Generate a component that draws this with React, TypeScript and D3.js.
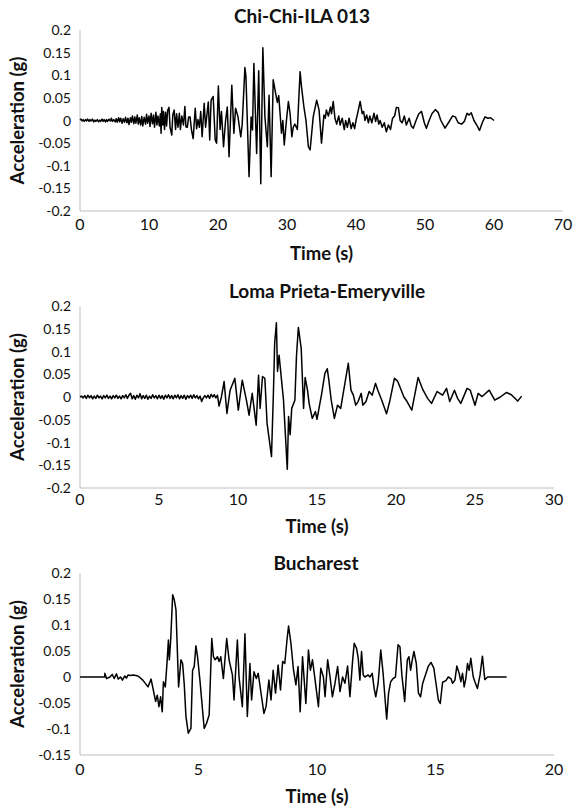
import React from "react";
import * as d3 from "d3";

// ---------- DATA ----------
const chiChiTitle = "Chi-Chi-ILA 013";
const lomaTitle = "Loma Prieta-Emeryville";
const buchTitle = "Bucharest";

const chiChiXTicks = [0, 10, 20, 30, 40, 50, 60, 70];
const lomaXTicks = [0, 5, 10, 15, 20, 25, 30];
const buchXTicks = [0, 5, 10, 15, 20];
const yTicksA = [-0.2, -0.15, -0.1, -0.05, 0, 0.05, 0.1, 0.15, 0.2];
const yTicksB = [-0.15, -0.1, -0.05, 0, 0.05, 0.1, 0.15, 0.2];

// [time (s), acceleration (g)]
const chiChi: [number, number][] = [
  [0,0.001],[0.15,0.003],[0.3,-0.001],[0.45,0.002],[0.6,-0.002],[0.8,0.002],[0.95,-0.001],[1.1,0.003],[1.3,-0.002],[1.45,0.002],[1.6,-0.001],[1.8,0.003],[2.0,-0.003],[2.15,0.001],[2.3,-0.002],[2.5,0.002],[2.7,-0.003],[2.85,0.001],[3.0,-0.002],[3.2,0.003],[3.35,-0.002],[3.5,0.002],[3.7,-0.003],[3.85,0.002],[4.0,-0.002],[4.2,0.003],[4.4,-0.001],[4.55,0.005],[4.7,-0.002],[4.9,0.002],[5.1,-0.003],
  [5.25,0.004],[5.4,-0.004],[5.6,0.006],[5.75,-0.003],[5.9,0.005],[6.1,-0.006],[6.25,0.004],[6.45,-0.004],[6.6,0.007],[6.8,-0.005],[6.95,0.005],[7.1,-0.009],[7.3,0.006],[7.45,-0.004],[7.6,0.01],[7.8,-0.007],[7.95,0.008],[8.1,-0.006],[8.3,0.012],[8.45,-0.008],[8.6,0.006],[8.8,-0.01],[8.95,0.009],[9.1,-0.012],[9.3,0.007],[9.5,-0.008],[9.65,0.014],[9.8,-0.006],[10.0,0.01],
  [10.15,-0.013],[10.3,0.016],[10.5,-0.007],[10.65,0.012],[10.8,-0.015],[11.0,0.018],[11.15,-0.01],[11.3,0.01],[11.5,-0.012],
  [11.65,0.015],[11.75,-0.028],[11.85,0.029],[12.0,-0.01],[12.1,0.02],[12.25,-0.02],[12.4,0.018],[12.55,-0.012],[12.7,0.022],[12.9,0.029],[13.05,-0.015],[13.3,-0.032],[13.45,0.012],[13.65,0.023],[13.85,-0.02],[14.0,0.015],[14.2,-0.015],[14.4,0.016],[14.55,-0.02],[14.75,0.01],[15.0,-0.01],[15.2,0.031],[15.35,-0.014],[15.55,-0.015],[15.75,0.008],[15.95,0.008],[16.15,-0.02],[16.4,-0.04],[16.7,0.027],[16.9,-0.018],[17.1,0.002],[17.3,-0.015],[17.5,0.02],[17.7,-0.036],[18.0,0.038],[18.2,-0.015],[18.6,0.041],[18.8,-0.043],[19.0,0.045],[19.3,0.053],[19.6,-0.043],[19.8,-0.05],
  [20.05,0.076],[20.3,-0.02],[20.5,0.02],[20.8,-0.058],[21.1,0.0],[21.35,0.03],[21.6,-0.08],[22.0,0.078],[22.3,-0.028],[22.55,0.027],[22.9,0.008],[23.3,-0.036],[23.5,-0.01],[23.9,0.117],[24.05,0.097],[24.5,-0.124],[24.8,0.008],[25.0,-0.021],[25.2,0.126],[25.6,-0.073],[25.9,0.11],[26.2,-0.14],[26.5,0.161],[26.8,0.008],[27.15,-0.058],[27.4,0.056],[27.7,-0.124],[28.0,0.09],[28.4,0.056],[28.6,0.04],[28.8,0.055],[29.0,0.015],[29.2,-0.028],[29.4,0.0],[29.6,-0.054],[29.9,-0.003],[30.2,0.042],[30.45,0.015],[30.7,-0.036],[30.9,-0.015],[31.15,-0.008],[31.5,-0.02],[31.9,0.108],[32.1,0.075],[32.45,0.03],[32.75,0.0],[33.1,-0.058],[33.35,-0.065],[33.8,0.008],[34.3,0.045],[34.65,0.023],[35.0,-0.05],[35.35,0.012],[35.55,0.005],
  [35.7,0.023],[36.0,0.01],[36.3,0.03],[36.45,0.015],[36.7,0.042],[36.95,0.005],[37.2,-0.008],[37.5,0.01],[37.7,-0.01],[38.0,0.005],[38.3,-0.02],[38.5,0.0],[38.75,-0.015],[39.0,0.005],[39.3,-0.018],[39.55,-0.005],[39.8,-0.018],[40.0,0.0],[40.3,0.02],[40.6,0.042],[40.9,0.015],[41.1,0.02],[41.3,0.0],[41.55,0.012],[41.8,-0.005],[42.0,0.01],[42.3,-0.005],[42.6,0.016],[42.85,-0.002],[43.05,0.012],[43.3,-0.008],[43.5,0.0],[43.8,-0.015],[44.1,-0.005],[44.4,-0.025],[44.7,-0.01],[45.0,-0.02],[45.3,0.005],[45.6,0.01],[45.85,0.029],[46.15,0.028],[46.4,0.0],[46.7,-0.005],[47.0,0.01],[47.3,-0.01],[47.7,0.005],[48.0,-0.012],[48.3,-0.017],[48.7,0.0],[49.1,0.015],[49.5,0.02],[49.9,-0.005],[50.2,-0.017],[50.6,0.0],[51.0,0.015],[51.5,0.024],[51.9,0.018],[52.3,0.0],[52.9,-0.017],[53.4,-0.005],[54.0,0.01],[54.4,0.008],[54.8,-0.005],[55.3,-0.008],[55.7,-0.002],[56.1,0.016],[56.4,0.012],[56.7,0.017],[57.1,0.0],[57.5,-0.01],[57.9,-0.022],[58.3,-0.005],[58.7,0.008],[59.1,0.005],[59.5,0.006],[60.0,0.0],
];

const loma: [number, number][] = [
  [0,0],[0.1,0.002],[0.2,-0.002],[0.3,0.003],[0.4,-0.003],[0.5,0.004],[0.6,-0.002],[0.7,0.003],[0.8,-0.004],[0.9,0.002],[1.0,-0.003],[1.1,0.004],[1.2,-0.002],[1.3,0.002],[1.4,-0.004],[1.5,0.003],[1.6,-0.002],[1.7,0.004],[1.8,-0.003],[1.9,0.002],[2.0,-0.004],[2.1,0.003],[2.2,-0.002],[2.3,0.004],[2.4,-0.003],[2.5,0.002],[2.6,-0.004],[2.7,0.003],[2.8,-0.002],[2.9,0.005],[3.0,-0.003],[3.1,0.004],[3.2,0.008],[3.3,-0.004],[3.4,0.003],[3.5,-0.005],[3.6,0.004],[3.7,-0.002],[3.8,0.007],[3.9,-0.004],[4.0,0.003],[4.1,-0.003],[4.2,0.004],[4.3,-0.005],[4.4,0.002],[4.5,-0.003],[4.6,0.005],[4.7,-0.002],[4.8,0.003],[4.9,-0.004],[5.0,0.004],[5.1,-0.003],[5.2,0.003],[5.3,-0.005],[5.4,0.004],[5.5,-0.002],[5.6,0.005],[5.7,-0.003],[5.8,0.003],[5.9,-0.004],[6.0,0.004],[6.1,-0.002],[6.2,0.005],[6.3,-0.004],[6.4,0.003],[6.5,-0.003],[6.6,0.004],[6.7,-0.005],[6.8,0.003],[6.9,-0.002],[7.0,0.004],[7.1,-0.003],[7.2,0.005],[7.3,-0.002],[7.4,0.003],[7.5,-0.004],[7.6,0.002],[7.7,-0.01],[7.8,-0.002],[7.9,0.003],[8.0,-0.002],[8.1,0.004],[8.2,-0.003],[8.3,0.006],[8.4,0.0],[8.5,0.005],[8.6,-0.002],[8.7,0.004],[8.8,-0.02],[8.95,0.0],
  [9.12,0.034],[9.3,-0.036],[9.5,0.015],[9.8,0.041],[10.02,-0.029],[10.27,0.037],[10.55,-0.01],[10.7,-0.04],[10.9,0.008],[11.15,-0.062],[11.3,0.048],[11.4,-0.025],[11.55,0.045],[11.7,0.041],[11.84,-0.058],[12.12,-0.131],[12.25,0.02],[12.32,0.118],[12.43,0.163],[12.5,0.056],[12.6,0.092],[12.88,-0.007],[13.12,-0.159],[13.2,-0.043],[13.3,-0.083],[13.4,-0.025],[13.6,-0.007],[13.7,0.089],[13.82,0.153],[14.0,0.107],[14.15,-0.025],[14.25,0.043],[14.4,0.015],[14.5,-0.014],[14.7,-0.047],[14.9,-0.032],[15.0,-0.049],[15.3,0.008],[15.5,0.052],[15.65,0.062],[15.75,0.037],[15.9,-0.007],[16.1,-0.047],[16.3,-0.018],[16.5,-0.025],[16.8,0.037],[16.98,0.074],[17.15,0.015],[17.3,0.004],[17.45,-0.018],[17.6,-0.01],[17.8,0.008],[17.9,-0.018],[18.1,-0.01],[18.3,0.012],[18.5,0.004],[18.7,0.03],[18.85,0.015],[19.1,-0.007],[19.4,-0.037],[19.6,-0.01],[19.9,0.041],[20.1,0.035],[20.5,0.0],[20.7,-0.01],[21.0,-0.029],[21.4,0.043],[21.7,0.016],[22.0,-0.003],[22.25,-0.014],[22.6,0.012],[22.95,0.004],[23.2,0.019],[23.4,-0.01],[23.7,0.015],[23.9,-0.003],[24.1,-0.014],[24.5,0.019],[24.7,0.015],[25.0,-0.018],[25.2,0.008],[25.45,0.001],[25.9,0.015],[26.25,-0.007],[26.6,0.0],[27.0,0.01],[27.3,0.005],[27.7,-0.009],[27.95,0.002],
];

const bucharest: [number, number][] = [
  [0,0],[1.04,0],[1.05,0.007],[1.12,-0.003],[1.26,0.0],[1.36,0.005],[1.44,-0.003],[1.54,0.006],[1.61,-0.004],[1.71,0.0],[1.79,-0.006],[1.89,0.002],[1.96,-0.002],[2.03,0.004],[2.12,0.003],[2.24,0.004],[2.45,0.002],[2.65,-0.006],[2.87,-0.019],[3.0,-0.004],[3.19,-0.047],[3.26,-0.035],[3.33,-0.057],[3.4,-0.038],[3.47,-0.067],[3.52,-0.009],[3.6,-0.019],[3.68,0.033],[3.73,0.071],[3.77,0.033],[3.83,0.074],[3.91,0.158],[3.98,0.148],[4.05,0.129],[4.16,-0.019],[4.26,0.033],[4.33,0.026],[4.4,-0.015],[4.47,-0.076],[4.57,-0.108],[4.68,-0.099],[4.75,0.013],[4.82,0.02],[4.89,0.06],[4.96,0.039],[5.06,-0.006],[5.17,-0.063],[5.24,-0.099],[5.34,-0.089],[5.45,-0.073],[5.56,0.074],[5.63,0.039],[5.7,0.033],[5.8,0.039],[5.87,0.03],[5.94,0.039],[6.05,-0.003],[6.19,0.074],[6.29,0.033],[6.43,0.004],[6.5,-0.044],[6.64,0.071],[6.71,0.0],[6.85,-0.057],[6.96,0.083],[7.06,-0.076],[7.17,0.026],[7.24,-0.044],[7.34,0.01],[7.44,-0.003],[7.52,0.007],[7.62,-0.025],[7.76,-0.07],[7.85,-0.057],[7.97,-0.006],[8.06,-0.044],[8.15,0.013],[8.25,-0.031],[8.36,0.023],[8.46,-0.025],[8.55,0.03],[8.64,0.026],[8.74,0.074],[8.8,0.098],[8.9,0.065],[9.01,0.013],[9.11,-0.015],[9.2,0.02],[9.29,-0.067],[9.39,0.039],[9.53,-0.051],[9.64,0.052],[9.72,0.013],[9.81,0.033],[9.92,-0.006],[10.06,-0.057],[10.16,0.017],[10.27,0.0],[10.34,-0.038],[10.45,0.033],[10.55,0.0],[10.65,-0.038],[10.76,-0.012],[10.87,0.02],[10.97,-0.028],[11.08,0.0],[11.18,-0.012],[11.29,0.021],[11.39,-0.038],[11.5,0.03],[11.57,0.065],[11.67,0.055],[11.74,0.036],[11.81,-0.006],[11.88,0.049],[11.95,0.004],[12.02,0.0],[12.16,0.004],[12.23,0.0],[12.33,0.007],[12.41,-0.022],[12.48,-0.038],[12.58,-0.012],[12.69,0.052],[12.79,0.007],[12.88,-0.047],[12.94,-0.081],[13.02,-0.031],[13.11,-0.009],[13.21,-0.003],[13.31,0.0],[13.42,0.062],[13.5,0.058],[13.58,0.004],[13.7,-0.047],[13.81,0.033],[13.88,0.039],[13.95,0.013],[14.02,0.033],[14.09,0.049],[14.19,0.026],[14.28,-0.031],[14.37,-0.038],[14.46,-0.012],[14.6,0.007],[14.7,0.021],[14.81,0.028],[14.93,0.017],[15.02,-0.012],[15.12,-0.044],[15.2,-0.051],[15.3,-0.01],[15.44,-0.007],[15.54,0.0],[15.65,-0.003],[15.72,-0.012],[15.82,-0.006],[15.9,0.021],[16.0,0.007],[16.07,-0.009],[16.14,0.007],[16.21,-0.019],[16.28,-0.003],[16.35,0.026],[16.42,0.013],[16.49,0.036],[16.59,0.001],[16.66,-0.009],[16.77,-0.022],[16.88,0.004],[16.98,0.04],[17.08,-0.005],[17.2,0.0],[18.0,0.0],
];

// ---------- LAYOUT ----------
const FONT = "Lato, 'Open Sans', 'Noto Sans', sans-serif";

type PanelCfg = {
  title: string;
  titleX: number;
  titleY: number;
  data: [number, number][];
  xMax: number;
  xTicks: number[];
  yMin: number;
  yMax: number;
  yTicks: number[];
  left: number;
  right: number;
  top: number;
  bottom: number;
  xLabelY: number;
  xTitleY: number;
};

const panels: PanelCfg[] = [
  { title: chiChiTitle, titleX: 302, titleY: 23, data: chiChi, xMax: 70, xTicks: chiChiXTicks, yMin: -0.2, yMax: 0.2, yTicks: yTicksA, left: 80, right: 563, top: 30, bottom: 211, xLabelY: 230, xTitleY: 260 },
  { title: lomaTitle, titleX: 327, titleY: 298, data: loma, xMax: 30, xTicks: lomaXTicks, yMin: -0.2, yMax: 0.2, yTicks: yTicksA, left: 80, right: 554, top: 306, bottom: 488, xLabelY: 505, xTitleY: 533 },
  { title: buchTitle, titleX: 316, titleY: 570, data: bucharest, xMax: 20, xTicks: buchXTicks, yMin: -0.15, yMax: 0.2, yTicks: yTicksB, left: 80, right: 554, top: 573, bottom: 755, xLabelY: 775, xTitleY: 803 },
];

const fmt = (v: number) => String(+v.toFixed(2));

function Panel({ cfg }: { cfg: PanelCfg }) {
  const x = d3.scaleLinear().domain([0, cfg.xMax]).range([cfg.left, cfg.right]);
  const y = d3.scaleLinear().domain([cfg.yMin, cfg.yMax]).range([cfg.bottom, cfg.top]);
  const line = d3
    .line<[number, number]>()
    .x((d) => x(d[0]))
    .y((d) => y(d[1]));
  const cy = (cfg.top + cfg.bottom) / 2;
  const cx = (cfg.left + cfg.right) / 2;
  return (
    <g>
      <text x={cfg.titleX} y={cfg.titleY} textAnchor="middle" fontFamily={FONT} fontWeight="bold" fontSize={19} fill="#111">
        {cfg.title}
      </text>
      <line x1={cfg.left} x2={cfg.left} y1={cfg.top} y2={cfg.bottom} stroke="#bfbfbf" strokeWidth={1} />
      <line x1={cfg.left} x2={cfg.right} y1={cfg.bottom} y2={cfg.bottom} stroke="#bfbfbf" strokeWidth={1} />
      {cfg.yTicks.map((t) => (
        <text key={"y" + t} x={cfg.left - 9} y={y(t)} dy="0.36em" textAnchor="end" fontFamily={FONT} fontSize={14} fill="#111">
          {fmt(t)}
        </text>
      ))}
      {cfg.xTicks.map((t) => (
        <text key={"x" + t} x={x(t)} y={cfg.xLabelY} textAnchor="middle" fontFamily={FONT} fontSize={16} fill="#111">
          {fmt(t)}
        </text>
      ))}
      <text x={cx} y={cfg.xTitleY} textAnchor="middle" fontFamily={FONT} fontWeight="bold" fontSize={18.5} fill="#111">
        Time (s)
      </text>
      <text transform={`translate(24,${cy}) rotate(-90)`} textAnchor="middle" fontFamily={FONT} fontWeight="bold" fontSize={18.5} fill="#111">
        Acceleration (g)
      </text>
      <path d={line(cfg.data) || ""} fill="none" stroke="#000" strokeWidth={1.5} strokeLinejoin="round" />
    </g>
  );
}

export default function App() {
  return (
    <svg width={581} height={810} viewBox="0 0 581 810" style={{ position: "absolute", left: 0, top: 0, background: "#fff" }}>
      <rect width={581} height={810} fill="#fff" />
      {panels.map((p) => (
        <Panel key={p.title} cfg={p} />
      ))}
    </svg>
  );
}
